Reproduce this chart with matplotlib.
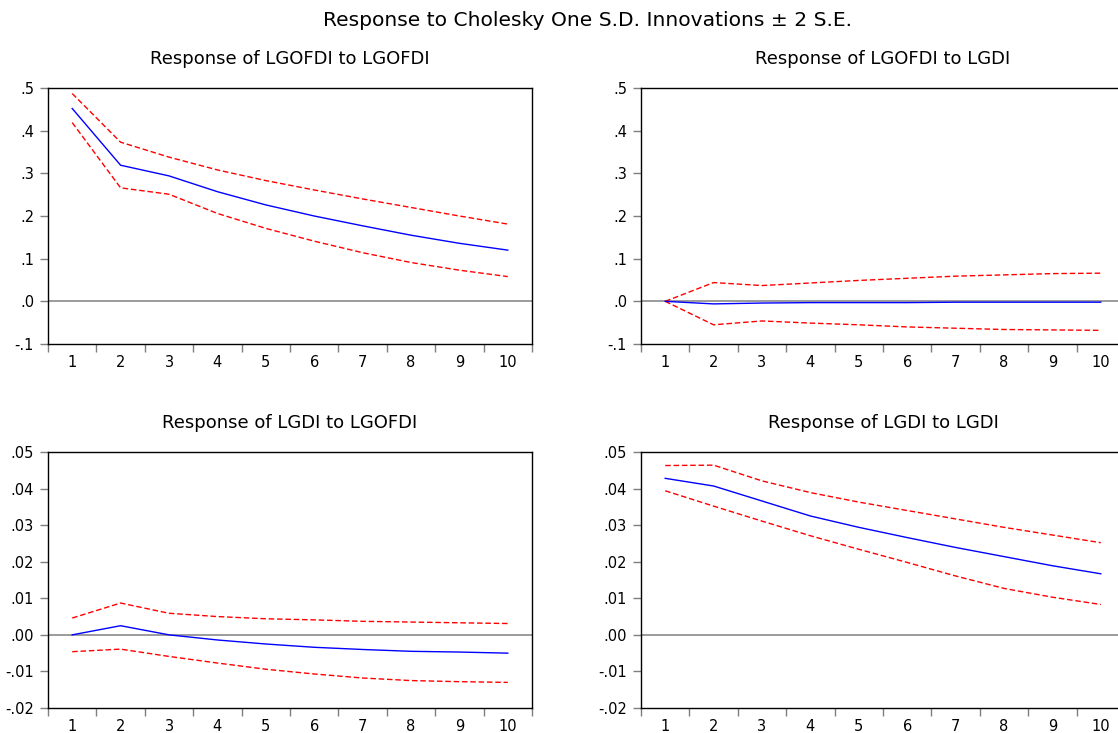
import matplotlib
matplotlib.use("Agg")
import matplotlib.pyplot as plt
from matplotlib.ticker import FixedLocator, FuncFormatter, NullFormatter

plt.rcParams["font.family"] = ["DejaVu Sans"]

periods = list(range(1, 11))

# Response of LGOFDI to LGOFDI
gofdi_gofdi = [0.452, 0.319, 0.294, 0.257, 0.226, 0.200, 0.177, 0.155, 0.136, 0.120]
gofdi_gofdi_hi = [0.487, 0.373, 0.338, 0.308, 0.283, 0.261, 0.240, 0.220, 0.200, 0.181]
gofdi_gofdi_lo = [0.419, 0.266, 0.251, 0.206, 0.171, 0.141, 0.114, 0.091, 0.073, 0.058]

# Response of LGOFDI to LGDI
gofdi_gdi = [0.000, -0.006, -0.004, -0.003, -0.003, -0.003, -0.002, -0.002, -0.002, -0.002]
gofdi_gdi_hi = [0.000, 0.044, 0.037, 0.043, 0.049, 0.054, 0.059, 0.062, 0.065, 0.066]
gofdi_gdi_lo = [0.000, -0.055, -0.046, -0.051, -0.055, -0.060, -0.063, -0.066, -0.067, -0.068]

# Response of LGDI to LGOFDI
gdi_gofdi = [0.0000, 0.0025, 0.0000, -0.0014, -0.0025, -0.0034, -0.0040, -0.0045, -0.0047, -0.0050]
gdi_gofdi_hi = [0.0046, 0.0087, 0.0059, 0.0050, 0.0044, 0.0041, 0.0037, 0.0035, 0.0033, 0.0031]
gdi_gofdi_lo = [-0.0046, -0.0039, -0.0059, -0.0077, -0.0094, -0.0107, -0.0118, -0.0125, -0.0128, -0.0130]

# Response of LGDI to LGDI
gdi_gdi = [0.0428, 0.0407, 0.0366, 0.0325, 0.0294, 0.0266, 0.0239, 0.0214, 0.0189, 0.0167]
gdi_gdi_hi = [0.0463, 0.0464, 0.0421, 0.0389, 0.0363, 0.0340, 0.0317, 0.0294, 0.0273, 0.0252]
gdi_gdi_lo = [0.0394, 0.0352, 0.0311, 0.0271, 0.0234, 0.0198, 0.0161, 0.0127, 0.0103, 0.0083]

titles = [
    "Response of LGOFDI to LGOFDI",
    "Response of LGOFDI to LGDI",
    "Response of LGDI to LGOFDI",
    "Response of LGDI to LGDI",
]
upper_ticks = [-0.1, 0.0, 0.1, 0.2, 0.3, 0.4, 0.5]
lower_ticks = [-0.02, -0.01, 0.00, 0.01, 0.02, 0.03, 0.04, 0.05]

panels = [
    (gofdi_gofdi, gofdi_gofdi_hi, gofdi_gofdi_lo, upper_ticks, 1),
    (gofdi_gdi, gofdi_gdi_hi, gofdi_gdi_lo, upper_ticks, 1),
    (gdi_gofdi, gdi_gofdi_hi, gdi_gofdi_lo, lower_ticks, 2),
    (gdi_gdi, gdi_gdi_hi, gdi_gdi_lo, lower_ticks, 2),
]

W, H = 1118, 733
fig = plt.figure(figsize=(W / 100, H / 100), dpi=100)

# axes boxes in pixel coordinates: (left, top, right, bottom)
boxes = [
    (48, 88, 532, 344),
    (641, 88, 1125, 344),
    (48, 452, 532, 708),
    (641, 452, 1125, 708),
]

tick_gray = "#7f7f7f"


def make_formatter(decimals):
    def fmt(v, pos):
        s = f"{v:.{decimals}f}"
        if s.startswith("-0."):
            s = "-" + s[2:]
        elif s.startswith("0."):
            s = s[1:]
        return s
    return FuncFormatter(fmt)


for (mid, hi, lo, yt, dec), (l, t, r, b), title in zip(panels, boxes, titles):
    ax = fig.add_axes([l / W, 1 - b / H, (r - l) / W, (b - t) / H])
    ax.axhline(0, color="#808080", lw=1.1, zorder=1)
    ax.plot(periods, hi, color="#ff0000", lw=1.0, ls=(0, (4, 2)), zorder=2)
    ax.plot(periods, lo, color="#ff0000", lw=1.0, ls=(0, (4, 2)), zorder=2)
    ax.plot(periods, mid, color="#0000ff", lw=1.0, zorder=3)

    ax.set_xlim(0.5, 10.5)
    ax.set_ylim(yt[0], yt[-1])
    ax.yaxis.set_major_locator(FixedLocator(yt))
    ax.yaxis.set_major_formatter(make_formatter(dec))

    # tick marks sit between periods, labels sit on them
    ax.xaxis.set_major_locator(FixedLocator([p - 0.5 for p in periods] + [10.5]))
    ax.xaxis.set_major_formatter(NullFormatter())
    ax.xaxis.set_minor_locator(FixedLocator(periods))
    ax.xaxis.set_minor_formatter(FuncFormatter(lambda v, pos: f"{int(round(v))}"))

    ax.tick_params(axis="y", direction="out", length=6, width=1, color=tick_gray,
                   labelsize=10.5, pad=4, labelcolor="black")
    ax.tick_params(axis="x", which="major", direction="out", length=6, width=1,
                   color=tick_gray)
    ax.tick_params(axis="x", which="minor", length=0, labelsize=10.5, pad=8,
                   labelcolor="black")
    for sp in ax.spines.values():
        sp.set_color("black")
        sp.set_linewidth(1.0)

    fig.text(((l + r) / 2) / W, 1 - (t - 29) / H, title, ha="center", va="center",
             fontsize=13, color="black")

fig.text(587 / W, 1 - 20 / H, "Response to Cholesky One S.D. Innovations \u00b1 2 S.E.",
         ha="center", va="center", fontsize=14.6, color="black")

fig.savefig("out.png", dpi=100, facecolor="white")
